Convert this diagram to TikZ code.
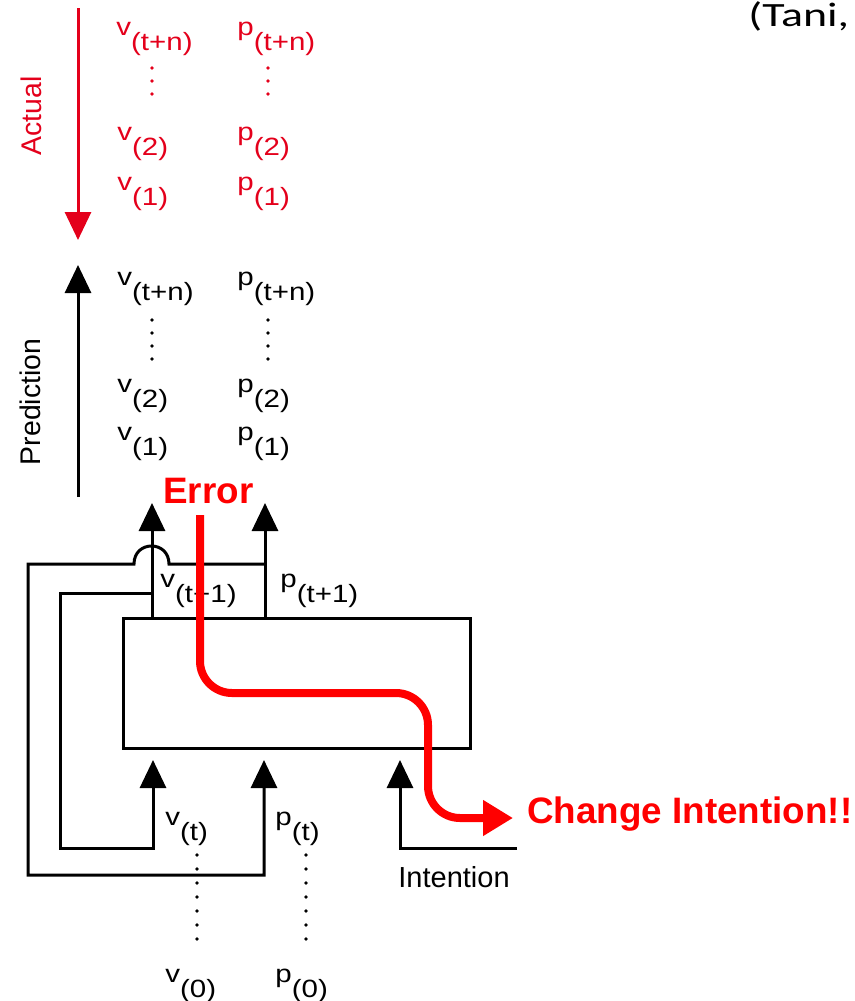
\documentclass[tikz,border=0pt]{standalone}
\usepackage{fontspec}
\setmainfont{Liberation Sans}
\newfontfamily\titlefont{Carlito}
\usetikzlibrary{arrows.meta}

\definecolor{actred}{RGB}{228,0,27}
\definecolor{errred}{RGB}{255,0,0}

\tikzset{
  sig/.style={line width=1.5pt,-{Triangle[length=14pt,width=13pt]}},
  lbl/.style={anchor=base west,inner sep=0pt,font=\fontsize{12.5}{15}\selectfont},
  side/.style={rotate=90,inner sep=0pt,font=\fontsize{14.2}{17}\selectfont},
  dotcol/.style={line width=1.9pt,line cap=round,dash pattern=on 0pt off #1},
  shout/.style={anchor=base west,inner sep=0pt,text=errred,font=\fontsize{18.4}{22}\selectfont\bfseries},
  netbox/.style={draw,line width=1.5pt,minimum width=173.5pt,minimum height=65pt,inner sep=0pt},
}
\newcommand{\lab}[2]{\scalebox{1.18}[1]{#1\raisebox{-7.5pt}{(#2)}}}

\begin{document}
\begin{tikzpicture}[x=0.5pt,y=-0.5pt]
\useasboundingbox (0,0) rectangle (855,1001);
\clip (0,0) rectangle (855,1001);
\node[anchor=base west,inner sep=0pt,font=\titlefont\fontsize{17}{20}\selectfont] (cite) at (748,26) {\scalebox{1.35}[1]{(Tani,}};

% actual sequence (red)
\coordinate (atop) at (78,8); \coordinate (abot) at (78,240);
\draw[sig,actred] (atop) -- (abot);
\node[side,actred] (actual) at (31,116) {Actual};
\node[lbl,actred] (avn) at (116,35) {\lab{v}{t+n}};
\node[lbl,actred] (apn) at (237,35) {\lab{p}{t+n}};
\node[lbl,actred] (av2) at (117,140) {\lab{v}{2}};
\node[lbl,actred] (ap2) at (237,140) {\lab{p}{2}};
\node[lbl,actred] (av1) at (117,190) {\lab{v}{1}};
\node[lbl,actred] (ap1) at (237,190) {\lab{p}{1}};
\coordinate (avd1) at (152,68); \coordinate (avd2) at (152,107);
\coordinate (apd1) at (268,68); \coordinate (apd2) at (268,107);
\draw[dotcol=6.5pt,actred] (avd1) -- (avd2);
\draw[dotcol=6.5pt,actred] (apd1) -- (apd2);

% predicted sequence
\coordinate (pbot) at (78,497); \coordinate (ptop) at (78,265);
\draw[sig] (pbot) -- (ptop);
\node[side] (pred) at (30,402) {Prediction};
\node[lbl] (pvn) at (117,285) {\lab{v}{t+n}};
\node[lbl] (ppn) at (237,285) {\lab{p}{t+n}};
\node[lbl] (pv2) at (117,392) {\lab{v}{2}};
\node[lbl] (pp2) at (237,392) {\lab{p}{2}};
\node[lbl] (pv1) at (117,440) {\lab{v}{1}};
\node[lbl] (pp1) at (237,440) {\lab{p}{1}};
\coordinate (pvd1) at (152,320); \coordinate (pvd2) at (152,359);
\coordinate (ppd1) at (268,320); \coordinate (ppd2) at (268,359);
\draw[dotcol=6.5pt] (pvd1) -- (pvd2);
\draw[dotcol=6.5pt] (ppd1) -- (ppd2);

% network
\node[netbox] (net) at (296.5,683) {};
\coordinate (vout) at (152,503); \coordinate (pout) at (265,503);
\draw[sig] (net.north -| vout) -- (vout);
\draw[sig] (net.north -| pout) -- (pout);
\node[lbl] (vnext) at (160,587) {\lab{v}{t+1}};
\node[lbl] (pnext) at (280,587) {\lab{p}{t+1}};

% feedback loops
\coordinate (pjoin) at (265,564); \coordinate (pin) at (264,760);
\coordinate (vjoin) at (152,593); \coordinate (vin) at (153,760);
\draw[sig] (pjoin) -- (169,564) .. controls +(0,-24) and +(0,-24) .. (134,564) -- (28,564) -- (28,875) -| (pin);
\draw[sig] (vjoin) -- (60,593) -- (60,848) -| (vin);
\coordinate (iend) at (517,848); \coordinate (iin) at (400,760);
\draw[sig] (iend) -| (iin);
\node[anchor=base west,inner sep=0pt,font=\fontsize{14.5}{17}\selectfont] (intent) at (398,887) {Intention};

\node[lbl] (vnow) at (165,825) {\lab{v}{t}};
\node[lbl] (pnow) at (275,825) {\lab{p}{t}};
\node[lbl] (vzero) at (165,982) {\lab{v}{0}};
\node[lbl] (pzero) at (275,982) {\lab{p}{0}};
\coordinate (bvd1) at (197,855); \coordinate (bvd2) at (197,953);
\coordinate (bpd1) at (306,855); \coordinate (bpd2) at (306,953);
\draw[dotcol=7pt] (bvd1) -- (bvd2);
\draw[dotcol=7pt] (bpd1) -- (bpd2);

% error path
\node[shout] (err) at (163,503) {Error};
\coordinate (estart) at (200,515); \coordinate (eend) at (513,818);
\draw[errred,line width=4pt,rounded corners=16pt,-{Triangle[length=15pt,width=17pt]}] (estart) -- (200,693) -- (428,693) -- (428,818) -- (eend);
\node[shout] (chg) at (527,823) {Change Intention!!};
\end{tikzpicture}
\end{document}
